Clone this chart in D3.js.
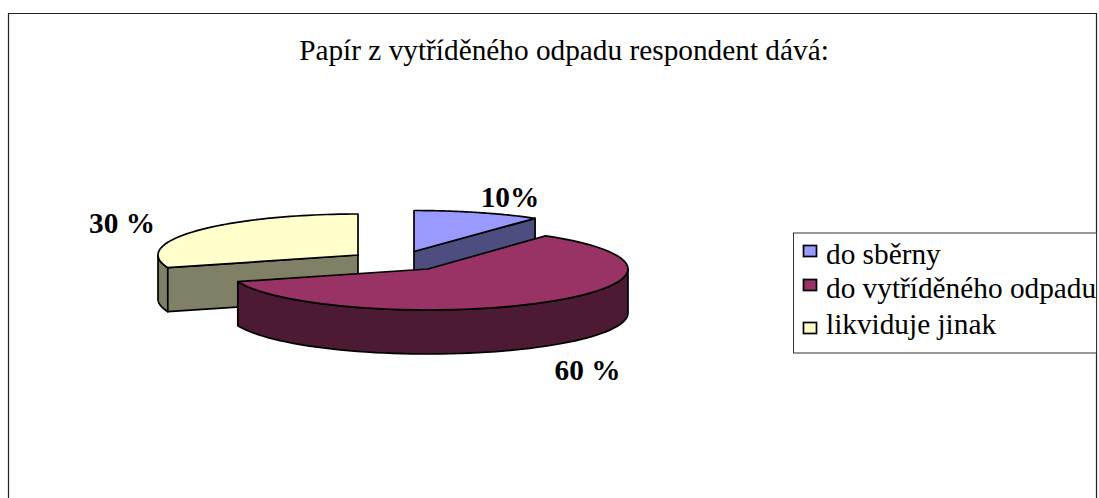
<!DOCTYPE html>
<html>
<head>
<meta charset="utf-8">
<style>html,body{margin:0;padding:0;background:#fff}svg{display:block}text{font-family:"Liberation Serif",serif;fill:#000}</style>
<script src="https://cdn.jsdelivr.net/npm/d3@7/dist/d3.min.js"></script>
</head>
<body>
<script>
const titleText = "Papír z vytříděného odpadu respondent dává:";
const categories = ["do sběrny", "do vytříděného odpadu", "likviduje jinak"];
const values = [10, 60, 30];
const valueLabels = ["10%", "60 %", "30 %"];
const topColors = ["#9999FF", "#993366", "#FFFFCC"];
const wallColors = ["#4D4D80", "#4D1A33", "#808066"];

const W = 1099, H = 498, FS = 29.3;
const svg = d3.select("body").append("svg").attr("width", W).attr("height", H);

// frame, open at the bottom
svg.append("path").attr("d", "M8.5,498V13.5H1096.5V498").attr("fill", "none").attr("stroke", "#222").attr("stroke-width", 1.2);

svg.append("text").attr("x", 564).attr("y", 60).attr("text-anchor", "middle").attr("font-size", FS).text(titleText);

// exploded pie layout
const apex = [[414, 251.5], [428, 269], [358, 255]];
const radiusX = [206, 200, 200];
const ry = 41, depth = 44;
const labelPos = [[510, 207], [587.5, 380], [122, 233]];
const drawOrder = [2, 0, 1];
const arcs = d3.pie().sort(null).value(d => d)(values);

const project = (i, a, dz = 0) => [apex[i][0] + radiusX[i] * Math.sin(a), apex[i][1] - ry * Math.cos(a) + dz];
const line = d3.line();
const arcPts = (i, a0, a1, dz = 0) => d3.range(0, 61).map(k => project(i, a0 + (a1 - a0) * k / 60, dz));
const stroke = s => s.attr("stroke", "#000").attr("stroke-width", 1.7).attr("stroke-linejoin", "round");

drawOrder.forEach(i => {
  const { startAngle: s, endAngle: e } = arcs[i];
  const g = svg.append("g");
  // outer wall: the part of the rim that faces the viewer
  const a0 = Math.max(s, Math.PI / 2), a1 = Math.min(e, 1.5 * Math.PI);
  if (a1 > a0) {
    const pts = arcPts(i, a0, a1).concat(arcPts(i, a1, a0, depth));
    stroke(g.append("path").attr("d", line(pts) + "Z").attr("fill", wallColors[i]));
  }
  // radial walls turned towards the viewer
  const radial = [];
  if (-Math.sin(s) > 1e-6) radial.push(s);
  if (Math.sin(e) > 1e-6) radial.push(e);
  radial.forEach(t => {
    const p = project(i, t), q = project(i, t, depth);
    const c = [apex[i][0], apex[i][1]], d = [apex[i][0], apex[i][1] + depth];
    stroke(g.append("path").attr("d", line([c, p, q, d]) + "Z").attr("fill", wallColors[i]));
  });
  // top face
  const top = [[apex[i][0], apex[i][1]]].concat(arcPts(i, s, e));
  stroke(g.append("path").attr("d", line(top) + "Z").attr("fill", topColors[i]));
});

valueLabels.forEach((t, i) => {
  svg.append("text").attr("x", labelPos[i][0]).attr("y", labelPos[i][1]).attr("text-anchor", "middle")
    .attr("font-size", FS).attr("font-weight", "bold").text(t);
});

// legend
svg.append("rect").attr("x", 793.5).attr("y", 233).attr("width", 303).attr("height", 120)
  .attr("fill", "#fff").attr("stroke", "#333").attr("stroke-width", 1);
const swatchY = [245.5, 279.5, 322.5];
const textY = [264, 298, 334];
categories.forEach((c, i) => {
  svg.append("rect").attr("x", 803.5).attr("y", swatchY[i]).attr("width", 13).attr("height", 11)
    .attr("fill", topColors[i]).attr("stroke", "#000").attr("stroke-width", 1.7);
  svg.append("text").attr("x", 826).attr("y", textY[i]).attr("font-size", FS).text(c);
});
</script>
</body>
</html>
